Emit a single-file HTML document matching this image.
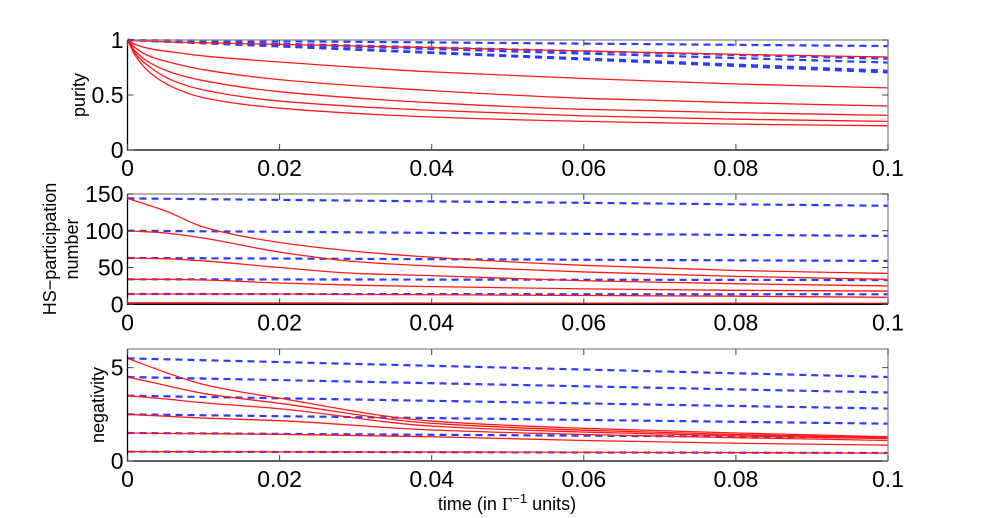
<!DOCTYPE html>
<html><head><meta charset="utf-8"><style>
body{margin:0;background:#fff}
svg{display:block;font-family:"Liberation Sans",sans-serif}
</style></head><body>
<svg id="chart" width="981" height="518" viewBox="0 0 981 518"></svg>
<script>
const xTicks=[0,0.02,0.04,0.06,0.08,0.1];
const xTickLabels=["0","0.02","0.04","0.06","0.08","0.1"];
// panel 1: purity
const t1=[0,0.001,0.003,0.006,0.01,0.02,0.04,0.06,0.08,0.1];
const purityRed=[
[1,0.995,0.99,0.98,0.975,0.96,0.93,0.90,0.87,0.845],
[1,0.96,0.92,0.89,0.855,0.80,0.71,0.65,0.60,0.565],
[1,0.93,0.85,0.79,0.73,0.64,0.54,0.47,0.43,0.40],
[1,0.90,0.79,0.70,0.63,0.53,0.43,0.37,0.34,0.315],
[1,0.88,0.75,0.63,0.545,0.445,0.36,0.31,0.28,0.26],
[1,0.86,0.70,0.57,0.475,0.38,0.30,0.26,0.235,0.22]];
const purityBlueStart=[1,1,1,1,1];
const purityBlueEnd=[0.945,0.83,0.795,0.72,0.705];
const purityTicks=[0,0.5,1];const purityTickLabels=["0","0.5","1"];
// panel 2: HS participation number
const t2=[0,0.005,0.01,0.02,0.03,0.04,0.06,0.08,0.1];
const hsRed=[
[144,127,105,84,72,64,53,46,42],
[100,97,90,71,58,52,44,38,34],
[63,62,59,50,42,39,32,28,25],
[34,34,33,29,26,24,21,19,18],
[14,14,14,14,13.5,13,12,11,9.5],
[2,2,2,1.9,1.8,1.7,1.6,1.5,1.4]];
const hsBlueStart=[144,100,63,34,14];
const hsBlueEnd=[134,93,59,33,13.6];
const hsTicks=[0,50,100,150];const hsTickLabels=["0","50","100","150"];
// panel 3: negativity
const t3=[0,0.005,0.01,0.02,0.04,0.06,0.08,0.1];
const negRed=[
[5.5,4.75,4.1,3.36,2.14,1.75,1.5,1.3],
[4.5,4.05,3.62,3.09,2.02,1.65,1.42,1.25],
[3.5,3.32,3.12,2.8,1.87,1.55,1.35,1.2],
[2.5,2.4,2.3,2.16,1.66,1.42,1.25,1.1],
[1.5,1.48,1.47,1.43,1.3,1.1,0.95,0.85],
[0.5,0.5,0.5,0.49,0.48,0.47,0.45,0.42]];
const negBlueStart=[5.5,4.5,3.5,2.5,1.5,0.5];
const negBlueEnd=[4.5,3.67,2.81,2.0,1.26,0.43];
const negTicks=[0,5];const negTickLabels=["0","5"];

const NS="http://www.w3.org/2000/svg";
const svg=document.getElementById('chart');
const X0=127.5,X1=888;
function sx(t){return X0+(t/0.1)*(X1-X0);}
function mk(tag,attrs,parent){const e=document.createElementNS(NS,tag);for(const k in attrs)e.setAttribute(k,attrs[k]);(parent||svg).appendChild(e);return e;}
// monotone cubic (Fritsch-Carlson) path
function smooth(p){const n=p.length,d=[],m=[];
  for(let i=0;i<n-1;i++)d.push((p[i+1][1]-p[i][1])/(p[i+1][0]-p[i][0]));
  m[0]=d[0];m[n-1]=d[n-2];
  for(let i=1;i<n-1;i++){if(d[i-1]*d[i]<=0)m[i]=0;else{const h0=p[i][0]-p[i-1][0],h1=p[i+1][0]-p[i][0];const w1=2*h1+h0,w2=h1+2*h0;m[i]=(w1+w2)/(w1/d[i-1]+w2/d[i]);}}
  let s=`M${p[0][0]},${p[0][1]}`;
  for(let i=0;i<n-1;i++){const h=p[i+1][0]-p[i][0];s+=` C${p[i][0]+h/3},${p[i][1]+m[i]*h/3} ${p[i+1][0]-h/3},${p[i+1][1]-m[i+1]*h/3} ${p[i+1][0]},${p[i+1][1]}`;}
  return s;}

function panel(name,top,bot,ymax,yt,ytl,tt,red,bs,be){
  const g=mk('g',{});
  
  
  const sy=v=>bot-(v/ymax)*(bot-top);
  bs.forEach((s,i)=>{const l=mk('line',{x1:sx(0),y1:sy(s),x2:sx(0.1),y2:sy(be[i]),stroke:'#2b3cff','stroke-width':2.2,'stroke-dasharray':'7,5'},g);
    
    });
  red.forEach((r,i)=>{const pts=r.map((v,j)=>[sx(tt[j]),sy(v)]);const p=mk('path',{d:smooth(pts),fill:'none',stroke:'#ff1a1a','stroke-width':1.3},g);
    
    });
  mk('path',{d:`M${X0},${top}H${X1}V${bot}`,fill:'none',stroke:'#888','stroke-width':1.3},g);
  mk('path',{d:`M${X0},${top}V${bot}H${X1}`,fill:'none',stroke:'#000','stroke-width':1.3},g);
  xTicks.forEach((t,i)=>{const x=sx(t);
    mk('line',{x1:x,y1:bot,x2:x,y2:bot-6,stroke:'#444','stroke-width':1},g);
    mk('line',{x1:x,y1:top,x2:x,y2:top+6,stroke:'#444','stroke-width':1},g);
    const tx=mk('text',{x:x,y:bot+26,'font-size':23,'text-anchor':'middle',fill:'#000'},g);tx.textContent=xTickLabels[i];
    
    });
  yt.forEach((v,i)=>{const y=sy(v);
    mk('line',{x1:X0,y1:y,x2:X0+6,y2:y,stroke:'#444','stroke-width':1},g);
    mk('line',{x1:X1,y1:y,x2:X1-6,y2:y,stroke:'#444','stroke-width':1},g);
    const tx=mk('text',{x:X0-4,y:y+8,'font-size':23,'text-anchor':'end',fill:'#000'},g);tx.textContent=ytl[i];
    
    });
  return g;
}
panel('purity',40,150,1,purityTicks,purityTickLabels,t1,purityRed,purityBlueStart,purityBlueEnd);
panel('hs-participation',194,304.3,150,hsTicks,hsTickLabels,t2,hsRed,hsBlueStart,hsBlueEnd);
panel('negativity',349,461,6,negTicks,negTickLabels,t3,negRed,negBlueStart,negBlueEnd);

function ylab(txt,x,y,nm){const t=mk('text',{x:x,y:y,'font-size':18,'text-anchor':'middle',transform:`rotate(-90 ${x} ${y})`,fill:'#000'});t.textContent=txt;
  
  }
ylab('purity',85,95,'purity-y-axis-title');
ylab('HS\u2212participation',56,249,'hs-y-axis-title-line1');
ylab('number',78,249,'hs-y-axis-title-line2');
ylab('negativity',104,405,'negativity-y-axis-title');
const xl=mk('text',{x:507,y:510,'font-size':18,'text-anchor':'middle',fill:'#000'});
xl.innerHTML='time (in <tspan font-family="Liberation Serif">\u0393</tspan><tspan dy="-7" font-size="13">\u22121</tspan><tspan dy="7"> units)</tspan>';


</script>
</body></html>
